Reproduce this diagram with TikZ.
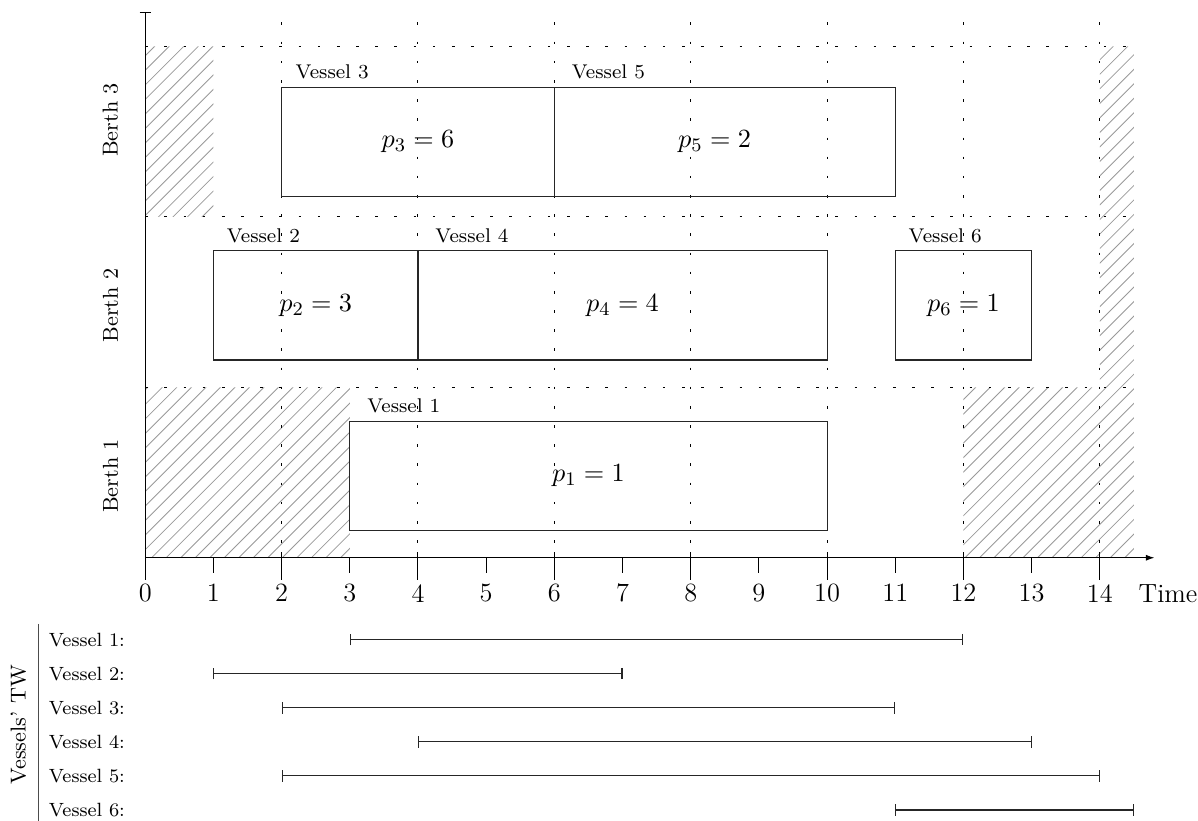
\documentclass[tikz,border=0pt]{standalone}
\usetikzlibrary{arrows.meta}
\tikzset{
	hatchline/.style={draw=gray!80, line width=0.35pt},
	gridline/.style={dash pattern=on 1.1pt off 6.9pt, line width=0.4pt},
	shipbox/.style={draw=black!85, line width=0.45pt},
	plabel/.style={font=\fontsize{11}{13}\selectfont},
	vlabel/.style={font=\fontsize{8.3}{10}\selectfont, anchor=base west, inner sep=0pt},
	numlabel/.style={font=\fontsize{11}{13}\selectfont},
	berthlabel/.style={font=\small, rotate=90},
	twlabel/.style={font=\footnotesize, anchor=west, inner sep=0pt},
	twbar/.style={|-|, draw=black!85, line width=0.45pt}
}

\begin{document}
\begin{tikzpicture}
	\useasboundingbox (-2.13,-3.86) rectangle (15.44,8.18);

	% unavailable periods
	\begin{scope}
		\clip (0,5) rectangle (1,7.5)
			(14,2.5) rectangle (14.5,7.5)
			(0,0) rectangle (3,2.5)
			(12,0) rectangle (14.5,2.5);
		\foreach \k in {0,...,106}
			\draw[hatchline] ({-8+0.213*\k},0) -- ++(8,8);
	\end{scope}

	% berth separators and time grid
	\foreach \y in {2.5,5,7.5}
		\draw[gridline] (0,\y) -- (14.5,\y);
	\foreach \x in {2,4,...,14}
		\draw[gridline] (\x,7.85) -- (\x,0);

	% axes
	\draw[|-] (0,8) -- (0,0);
	\draw[-{Latex[length=3.5pt,width=2.5pt]}] (0,0) -- (14.8,0);
	\foreach \x in {0,2,...,14}
		\draw (\x,0.08) -- (\x,-0.32);
	\foreach \x in {1,3,...,13}
		\draw (\x,0) -- (\x,-0.22);
	\foreach \x in {0,...,14}
		\node[numlabel] (t\x) at (\x,-0.52) {\x};
	\node[numlabel] (time) at (15.0,-0.52) {Time};

	\node[berthlabel] (b1) at (-0.51,1.2) {Berth 1};
	\node[berthlabel] (b2) at (-0.51,3.7) {Berth 2};
	\node[berthlabel] (b3) at (-0.51,6.42) {Berth 3};

	% berth 3
	\draw[shipbox] (2,5.3) rectangle (6,6.9);
	\draw[shipbox] (6,5.3) rectangle (11,6.9);
	\node[vlabel] (v3) at (2.2,7.03) {Vessel 3};
	\node[vlabel] (v5) at (6.25,7.03) {Vessel 5};
	\node[plabel] (p3) at (4,6.1) {$p_3 = 6$};
	\node[plabel] (p5) at (8.35,6.1) {$p_5 = 2$};

	% berth 2
	\draw[shipbox] (1,2.9) rectangle (4,4.5);
	\draw[shipbox] (4,2.9) rectangle (10,4.5);
	\draw[shipbox] (11,2.9) rectangle (13,4.5);
	\node[vlabel] (v2) at (1.19,4.63) {Vessel 2};
	\node[vlabel] (v4) at (4.25,4.63) {Vessel 4};
	\node[vlabel] (v6) at (11.19,4.63) {Vessel 6};
	\node[plabel] (p2) at (2.5,3.7) {$p_2 = 3$};
	\node[plabel] (p4) at (7,3.7) {$p_4 = 4$};
	\node[plabel] (p6) at (12,3.7) {$p_6 = 1$};

	% berth 1
	\draw[shipbox] (3,0.4) rectangle (10,2);
	\node[vlabel] (v1) at (3.25,2.13) {Vessel 1};
	\node[plabel] (p1) at (6.5,1.2) {$p_1 = 1$};

	% time windows
	\draw[black!70] (-1.57,-0.97) -- (-1.57,-3.86);
	\node[font=\small, rotate=90] (tw) at (-1.86,-2.45) {Vessels' TW};
	\foreach \i/\a/\b in {1/3/12, 2/1/7, 3/2/11, 4/4/13, 5/2/14, 6/11/14.5} {
		\node[twlabel] (tw\i) at (-1.42,{-0.7-0.5*\i}) {Vessel \i:};
		\draw[twbar] (\a,{-0.7-0.5*\i}) -- (\b,{-0.7-0.5*\i});
	}
\end{tikzpicture}
\end{document}
